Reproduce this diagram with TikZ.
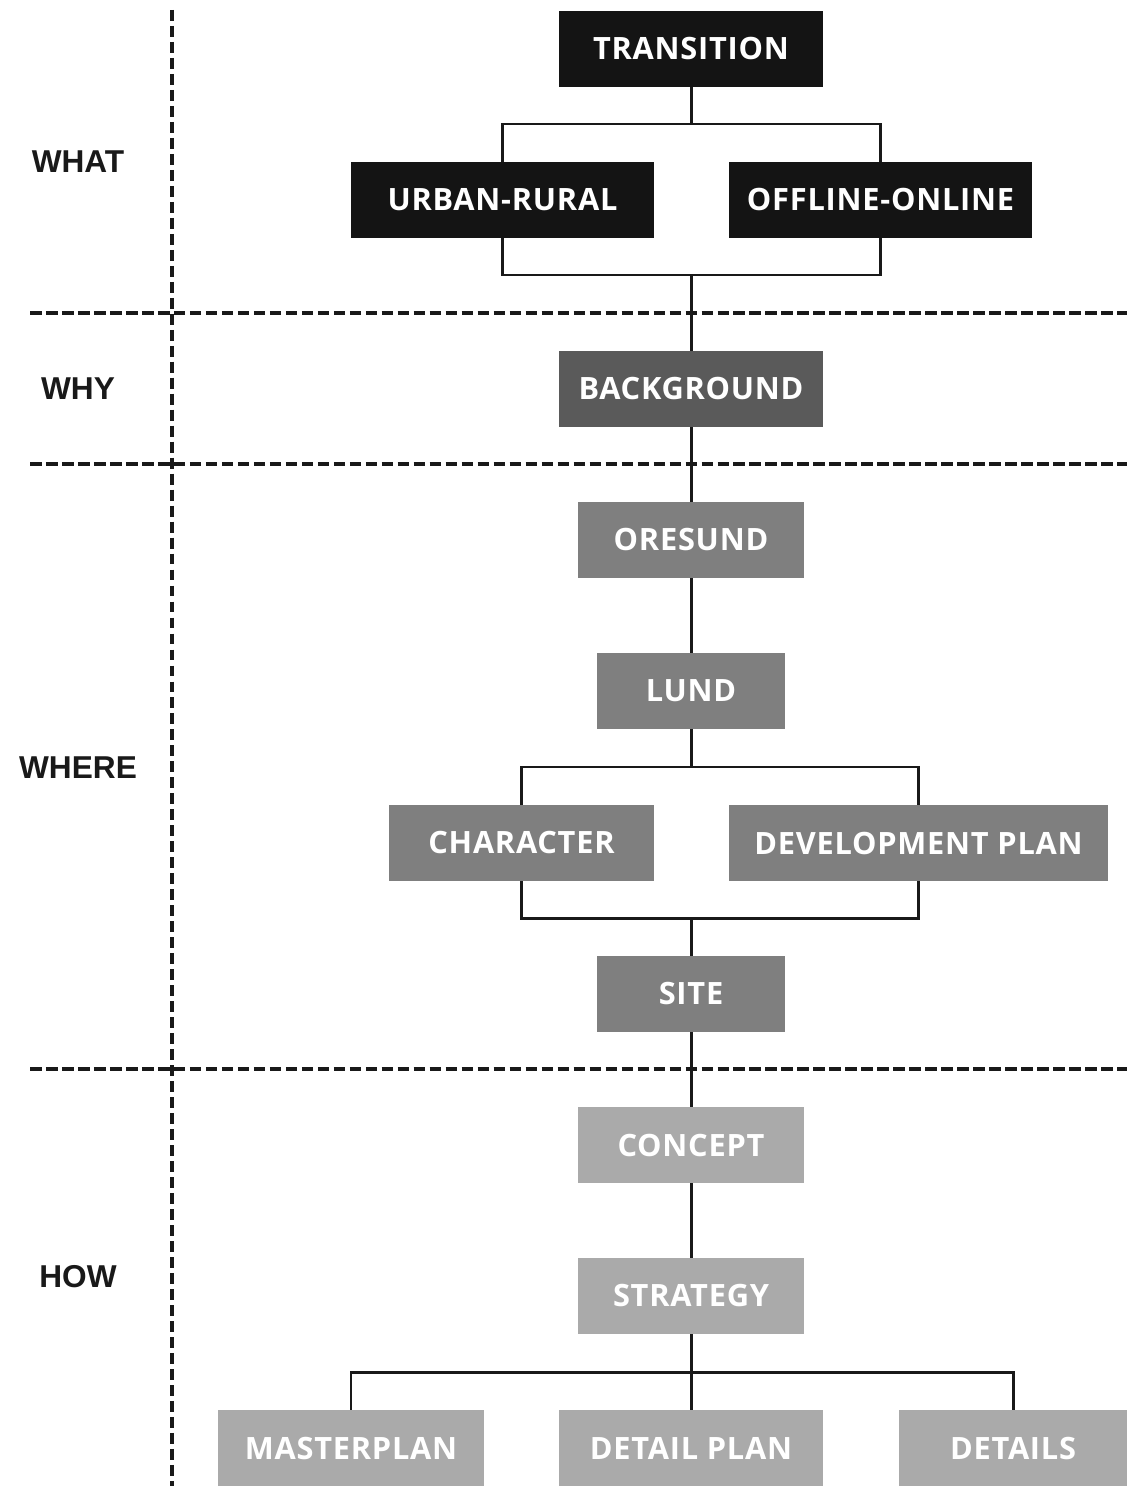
\documentclass[tikz,border=0pt]{standalone}
\usepackage{fontspec}
\setmainfont{Open Sans}[LetterSpace=2.5]
\newfontfamily\labelfont{Liberation Sans}
\usetikzlibrary{positioning}
\definecolor{lvlwhat}{HTML}{141414}
\definecolor{lvlwhy}{HTML}{5A5A5A}
\definecolor{lvlwhere}{HTML}{7F7F7F}
\definecolor{lvlhow}{HTML}{AAAAAA}
\tikzset{
  box/.style={rectangle, inner sep=0pt, minimum height=1.52cm, text=white,
    font=\bfseries\fontsize{17.5}{20}\selectfont},
  whatbox/.style={box, fill=lvlwhat},
  whybox/.style={box, fill=lvlwhy},
  wherebox/.style={box, fill=lvlwhere},
  howbox/.style={box, fill=lvlhow},
  rowlabel/.style={text=black!90, font=\labelfont\bfseries\fontsize{18}{21}\selectfont},
  link/.style={line width=1.7pt, black!90},
  divider/.style={line width=2.7pt, black!90, dash pattern=on 6.6pt off 2.5pt},
  sideline/.style={line width=2.7pt, black!90, dash pattern=on 6.2pt off 2.9pt}
}

\begin{document}
\begin{tikzpicture}[x=0.02cm, y=-0.02cm]
	\useasboundingbox (0,0) rectangle (1133,1486);
	% dividers
	\draw[sideline] (172,10) -- (172,1486);
	\draw[divider] (30,313) -- (1127,313);
	\draw[divider] (30,464) -- (1127,464);
	\draw[divider] (30,1069) -- (1127,1069);
	% row labels
	\node[rowlabel] (what) at (78,162) {WHAT};
	\node[rowlabel] (why) at (78,389) {WHY};
	\node[rowlabel] (where) at (78,768) {WHERE};
	\node[rowlabel] (how) at (78,1277) {HOW};
	% boxes
	\node[whatbox, minimum width=5.28cm] (trans) at (691,49) {TRANSITION};
	\node[whatbox, minimum width=6.06cm] (urban) at (502.5,200) {URBAN-RURAL};
	\node[whatbox, minimum width=6.06cm] (offline) at (880.5,200) {OFFLINE-ONLINE};
	\node[whybox, minimum width=5.28cm] (backg) at (691,389) {BACKGROUND};
	\node[wherebox, minimum width=4.54cm] (oresund) at (691,540) {ORESUND};
	\node[wherebox, minimum width=3.78cm] (lund) at (691,691) {LUND};
	\node[wherebox, minimum width=5.30cm] (charac) at (521.5,843) {CHARACTER};
	\node[wherebox, minimum width=7.58cm] (devplan) at (918.5,843) {DEVELOPMENT PLAN};
	\node[wherebox, minimum width=3.78cm] (site) at (691,994) {SITE};
	\node[howbox, minimum width=4.54cm] (concept) at (691,1145) {CONCEPT};
	\node[howbox, minimum width=4.54cm] (strat) at (691,1296) {STRATEGY};
	\node[howbox, minimum width=5.32cm] (master) at (351,1448) {MASTERPLAN};
	\node[howbox, minimum width=5.28cm] (detplan) at (691,1448) {DETAIL PLAN};
	\node[howbox, minimum width=4.56cm] (details) at (1013,1448) {DETAILS};
	% branch points
	\coordinate (transfork) at (691,124);
	\coordinate (transjoin) at (691,275);
	\coordinate (lundfork) at (691,767);
	\coordinate (lundjoin) at (691,918);
	\coordinate (stratfork) at (691,1372);
	% connectors
	\draw[link] (trans) -- (transfork);
	\draw[link] (urban.north) |- (transfork) -| (offline.north);
	\draw[link] (urban.south) |- (transjoin) -| (offline.south);
	\draw[link] (transjoin) -- (backg);
	\draw[link] (backg) -- (oresund);
	\draw[link] (oresund) -- (lund);
	\draw[link] (lund) -- (lundfork);
	\draw[link] (charac.north) |- (lundfork) -| (devplan.north);
	\draw[link] (charac.south) |- (lundjoin) -| (devplan.south);
	\draw[link] (lundjoin) -- (site);
	\draw[link] (site) -- (concept);
	\draw[link] (concept) -- (strat);
	\draw[link] (strat) -- (detplan);
	\draw[link] (master.north) |- (stratfork) -| (details.north);
\end{tikzpicture}
\end{document}
